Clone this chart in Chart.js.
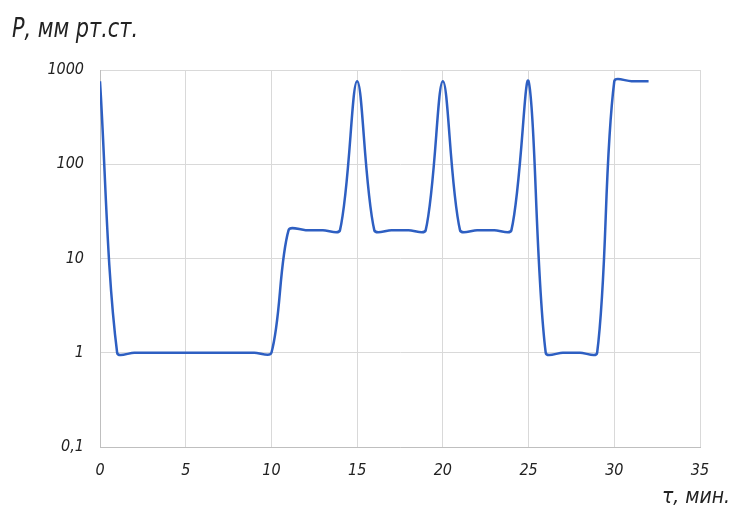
<!DOCTYPE html>
<html>
<head>
<meta charset="utf-8">
<script src="https://cdn.jsdelivr.net/npm/chart.js@4/dist/chart.umd.min.js"></script>
<style>
	html, body { margin: 0; padding: 0; background: #fff; }
	#wrap { width: 731px; height: 508px; }
</style>
</head>
<body>
<div id="wrap"><canvas id="chart"></canvas></div>
<script>
const minutes = [
	0, 1, 2, 3, 4, 5, 6, 7, 8, 9, 10,
	11, 12, 13, 14, 15, 16, 17, 18, 19, 20,
	21, 22, 23, 24, 25, 26, 27, 28, 29, 30,
	31, 32,
];
const pressure = [
	760, 1, 1, 1, 1, 1, 1, 1, 1, 1, 1,
	20, 20, 20, 20, 760, 20, 20, 20, 20, 760,
	20, 20, 20, 20, 760, 1, 1, 1, 1, 760,
	760, 760,
];
const yTicks = [0.1, 1, 10, 100, 1000];
const xTicks = [0, 5, 10, 15, 20, 25, 30, 35];

const yTitle = "Р, мм рт.ст.";
const xTitle = "τ, мин.";

const fontFamily = "'DejaVu Sans Condensed', 'DejaVu Sans', sans-serif";
const gridColor = "#d9d9d9";

// squeeze a line of text into a given width (the original font is very narrow)
const drawNarrow = (ctx, text, x, y, width, align) => {
	const w = ctx.measureText(text).width;
	const k = Math.min(1, width / w);
	ctx.save();
	ctx.translate(align === "right" ? x - width : x, y);
	ctx.scale(k, 1);
	ctx.textAlign = "left";
	ctx.fillText(text, 0, 0);
	ctx.restore();
};

// axis titles sit outside the plot, so they are drawn by hand
const axisTitles = {
	id: "axisTitles",
	afterDraw(chart) {
		const ctx = chart.ctx;
		ctx.save();
		ctx.fillStyle = "#222";
		ctx.textBaseline = "alphabetic";
		ctx.font = "italic 26px " + fontFamily;
		drawNarrow(ctx, yTitle, 12, 37, 126, "left");
		ctx.font = "italic 22px " + fontFamily;
		drawNarrow(ctx, xTitle, 730, 503, 68, "right");
		ctx.restore();
	},
};

const data = {
	datasets: [
		{
			data: minutes.map((m, i) => ({ x: m, y: pressure[i] })),
			borderColor: "#2e5fc2",
			borderWidth: 2.5,
			pointRadius: 0,
			tension: 0.32,
			fill: false,
		},
	],
};

const tickFont = { family: fontFamily, size: 16, style: "italic" };

const options = {
	responsive: true,
	maintainAspectRatio: false,
	animation: false,
	layout: { padding: { top: 70, right: 31, bottom: 0, left: 0 } },
	plugins: {
		legend: { display: false },
		tooltip: { enabled: false },
	},
	scales: {
		x: {
			type: "linear",
			min: 0,
			max: 35,
			afterBuildTicks: scale => {
				scale.ticks = xTicks.map(v => ({ value: v }));
			},
			afterFit: scale => {
				scale.height = 61;
			},
			grid: { color: gridColor, drawTicks: false },
			border: { color: "#bfbfbf" },
			ticks: { padding: 14, color: "#222", font: tickFont },
		},
		y: {
			type: "logarithmic",
			min: 0.1,
			max: 1000,
			afterBuildTicks: scale => {
				scale.ticks = yTicks.map(v => ({ value: v }));
			},
			afterFit: scale => {
				scale.width = 100;
			},
			grid: { color: gridColor, drawTicks: false },
			border: { color: "#bfbfbf" },
			ticks: {
				padding: 16,
				color: "#222",
				font: tickFont,
				callback: v => String(v).replace(".", ","),
			},
		},
	},
};

const config = {
	type: "line",
	data: data,
	options: options,
	plugins: [axisTitles],
};

new Chart(document.getElementById("chart"), config);
</script>
</body>
</html>
